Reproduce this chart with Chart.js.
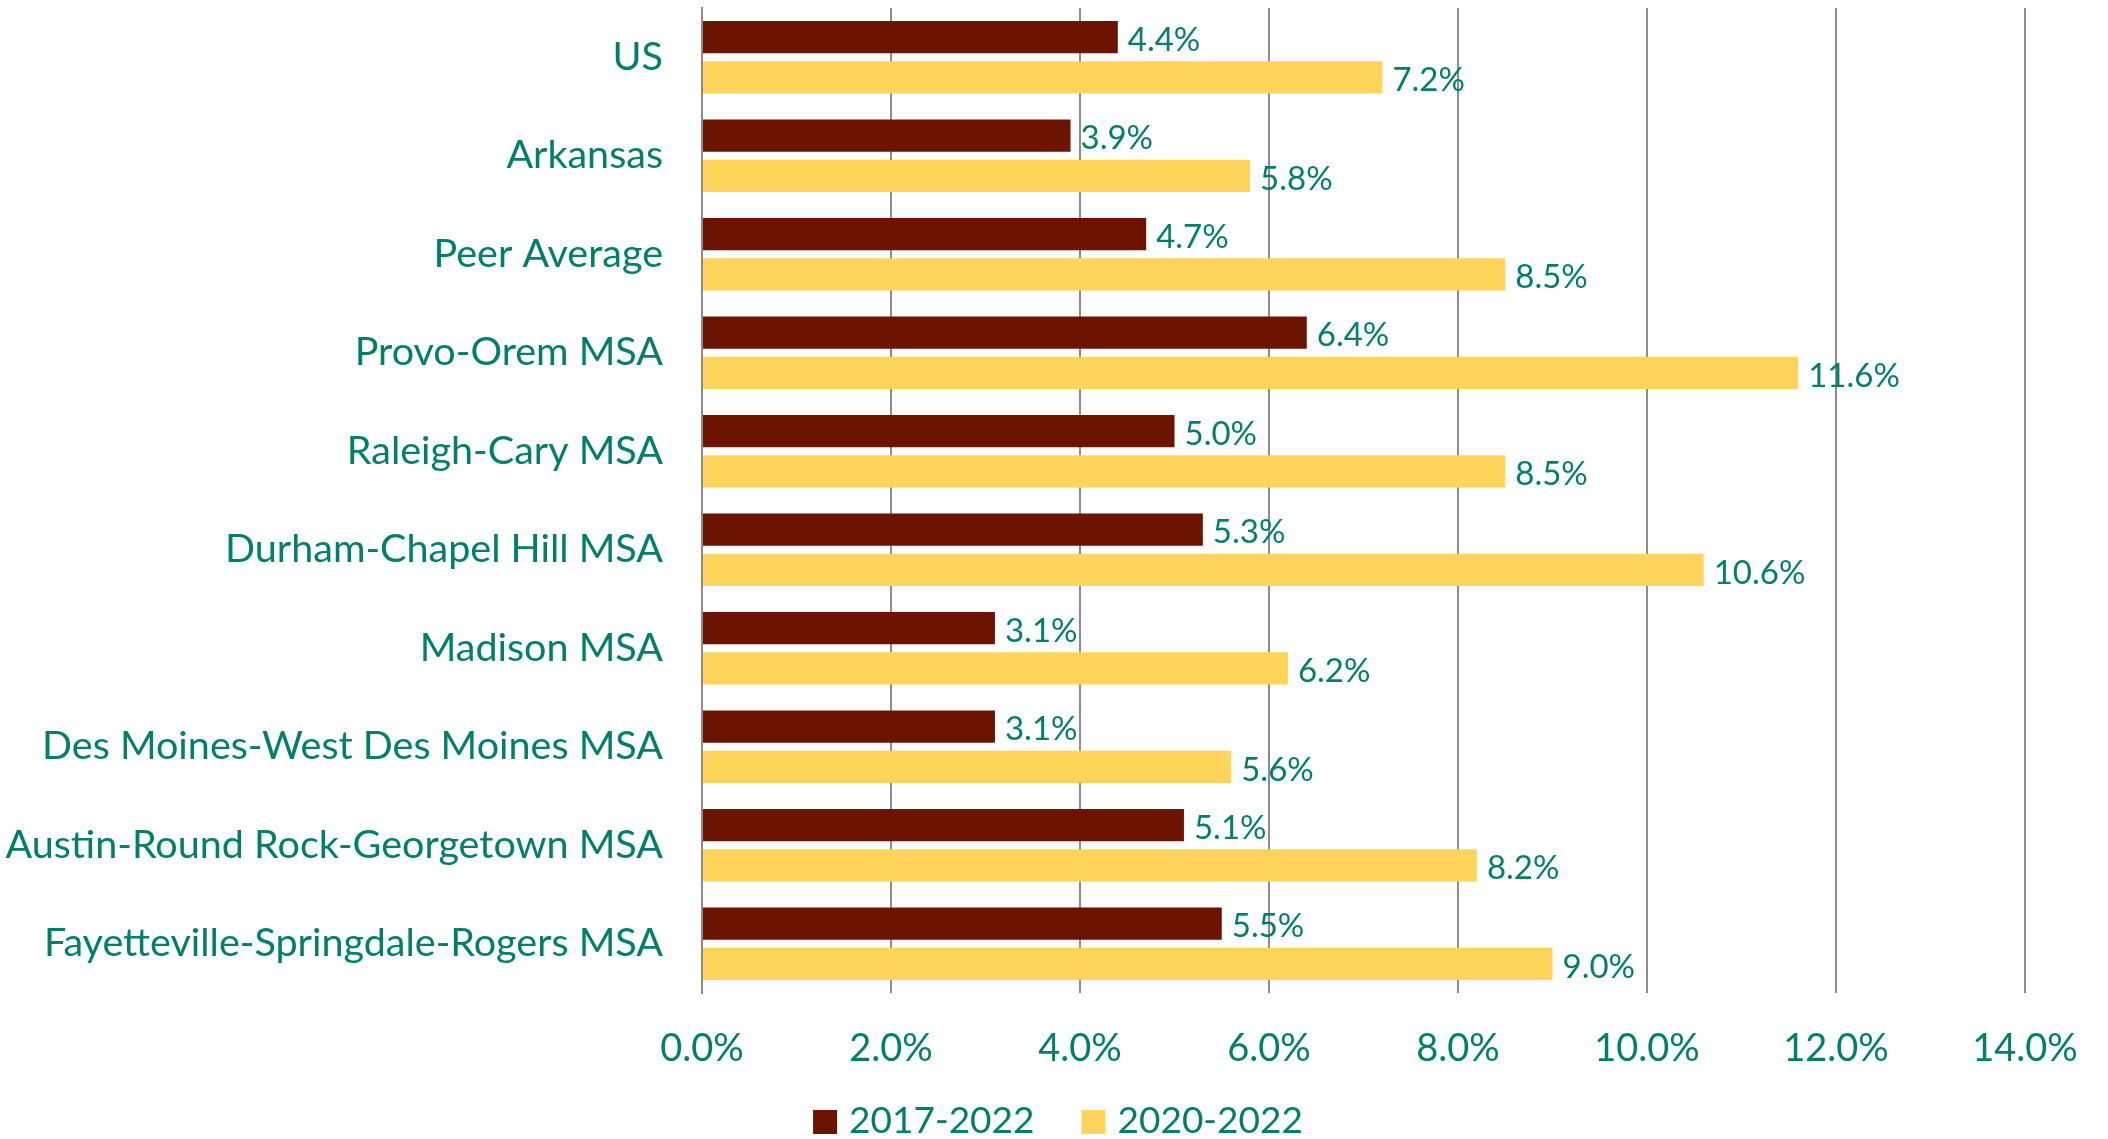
<!DOCTYPE html>
<html>
<head>
<meta charset="utf-8">
<script src="https://cdn.jsdelivr.net/npm/chart.js@4"></script>
<style>
  html, body { margin: 0; padding: 0; background: #fff; }
  #wrap { width: 2108px; height: 1139px; }
</style>
</head>
<body>
<div id="wrap"><canvas id="myChart"></canvas></div>
<script>
const categories = ['US', 'Arkansas', 'Peer Average', 'Provo-Orem MSA', 'Raleigh-Cary MSA',
    'Durham-Chapel Hill MSA', 'Madison MSA', 'Des Moines-West Des Moines MSA',
    'Austin-Round Rock-Georgetown MSA', 'Fayetteville-Springdale-Rogers MSA'];
const growth2017 = [4.4, 3.9, 4.7, 6.4, 5.0, 5.3, 3.1, 3.1, 5.1, 5.5];
const growth2020 = [7.2, 5.8, 8.5, 11.6, 8.5, 10.6, 6.2, 5.6, 8.2, 9.0];
const xTicks = [0, 2, 4, 6, 8, 10, 12, 14];

const teal = '#007f6a';
const fontFamily = 'Lato, "Open Sans", sans-serif';

// values at end of each bar
const barLabels = {
    id: 'barLabels',
    afterDatasetsDraw(chart) {
        const c = chart.ctx;
        c.save();
        c.font = '33px ' + fontFamily;
        c.fillStyle = teal;
        c.textAlign = 'left';
        c.textBaseline = 'middle';
        chart.data.datasets.forEach((ds, i) => {
            chart.getDatasetMeta(i).data.forEach((bar, j) => {
                c.fillText(ds.data[j].toFixed(1) + '%', bar.x + 10, bar.y + 3);
            });
        });
        c.restore();
    }
};

// legend drawn by hand so the spacing can follow the original
const bottomLegend = {
    id: 'bottomLegend',
    afterDraw(chart) {
        const c = chart.ctx;
        const box = 24, gapText = 12, gapItem = 47, y = 1122;
        c.save();
        c.font = '37px ' + fontFamily;
        c.textBaseline = 'middle';
        c.textAlign = 'left';
        const items = chart.data.datasets.map(ds => ({ text: ds.label, color: ds.backgroundColor }));
        let total = 0;
        items.forEach((it, i) => {
            it.w = c.measureText(it.text).width;
            total += box + gapText + it.w + (i ? gapItem : 0);
        });
        let x = chart.width / 2 - total / 2 + 4;
        items.forEach(it => {
            c.fillStyle = it.color;
            c.fillRect(x, y - box / 2, box, box);
            c.fillStyle = teal;
            c.fillText(it.text, x + box + gapText, y - 1);
            x += box + gapText + it.w + gapItem;
        });
        c.restore();
    }
};

const ctx = document.getElementById('myChart');

new Chart(ctx, {
    type: 'bar',
    data: {
        labels: categories,
        datasets: [
            {
                label: '2017-2022',
                data: growth2017,
                backgroundColor: '#6c1400',
                borderWidth: 0,
                categoryPercentage: 0.82,
                barPercentage: 0.8
            },
            {
                label: '2020-2022',
                data: growth2020,
                backgroundColor: '#ffd45a',
                borderWidth: 0,
                categoryPercentage: 0.82,
                barPercentage: 0.8
            }
        ]
    },
    options: {
        indexAxis: 'y',
        responsive: true,
        maintainAspectRatio: false,
        animation: false,
        layout: {
            padding: { top: 8, right: 83, bottom: 0, left: 0 }
        },
        scales: {
            x: {
                min: 0,
                max: 14,
                afterBuildTicks: s => { s.ticks = xTicks.map(v => ({ value: v })); },
                afterFit: s => {
                    s.height = 146;
                    s.paddingLeft = 0;
                    s.paddingRight = 0;
                },
                grid: { color: '#8c8c8c', lineWidth: 2, drawTicks: false },
                border: { display: false },
                ticks: {
                    padding: 33,
                    color: teal,
                    font: { family: fontFamily, size: 38 },
                    callback: v => v.toFixed(1) + '%'
                }
            },
            y: {
                afterFit: s => {
                    s.width = 702;
                    s.paddingTop = 0;
                    s.paddingBottom = 0;
                },
                grid: { display: false, drawTicks: false },
                border: { display: true, color: '#8c8c8c', width: 2 },
                ticks: {
                    padding: 39,
                    color: teal,
                    font: { family: fontFamily, size: 39.5 }
                }
            }
        },
        plugins: {
            legend: { display: false },
            tooltip: { enabled: false }
        }
    },
    plugins: [barLabels, bottomLegend]
});
</script>
</body>
</html>
